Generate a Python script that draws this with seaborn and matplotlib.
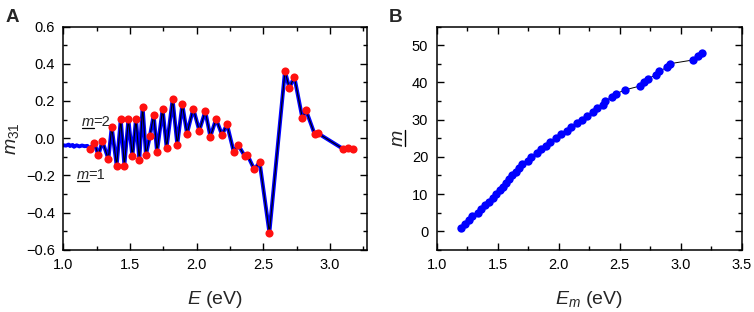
import numpy as np
import pandas as pd
import matplotlib
matplotlib.use('Agg')
import matplotlib.pyplot as plt
from matplotlib.ticker import MultipleLocator
from matplotlib.lines import Line2D
import seaborn as sns

# extrema energies (eV) and m31 values
E_peaks = [1.200, 1.233, 1.263, 1.293, 1.338, 1.363, 1.400, 1.431, 1.458, 1.488,
           1.518, 1.545, 1.570, 1.595, 1.620, 1.650, 1.678, 1.703, 1.745, 1.775,
           1.820, 1.855, 1.893, 1.928, 1.975, 2.020, 2.065, 2.103, 2.146, 2.191,
           2.228, 2.278, 2.313, 2.363, 2.380, 2.433, 2.473, 2.546, 2.663, 2.696,
           2.733, 2.793, 2.821, 2.886, 2.909, 3.096, 3.138, 3.176]
m31_peaks = [-0.057, -0.027, -0.091, -0.016, -0.112, 0.061, -0.147, 0.102, -0.147, 0.102,
             -0.098, 0.103, -0.118, 0.169, -0.091, 0.014, 0.125, -0.073, 0.157, -0.050,
             0.209, -0.034, 0.182, 0.025, 0.159, 0.041, 0.145, 0.009, 0.103, 0.018,
             0.075, -0.072, -0.038, -0.098, -0.088, -0.168, -0.129, -0.507, 0.360, 0.269,
             0.330, 0.110, 0.150, 0.021, 0.027, -0.056, -0.052, -0.056]
# low-energy tail of the spectrum before the first extremum
E_tail = [1.00, 1.02, 1.04, 1.05, 1.07, 1.08, 1.10, 1.12, 1.14, 1.16, 1.18]
m31_tail = [-0.038, -0.040, -0.034, -0.042, -0.036, -0.046, -0.038, -0.044, -0.039, -0.043, -0.041]
# order index of each extremum (panel B)
m_order = list(range(1, len(E_peaks) + 1))

peaks = pd.DataFrame({'E': E_peaks, 'm31': m31_peaks, 'm': m_order})
spec = pd.DataFrame({'E': E_tail + E_peaks, 'm31': m31_tail + m31_peaks})

sns.set_theme(style='ticks')
plt.rcParams['font.family'] = ['Liberation Sans', 'DejaVu Sans']
plt.rcParams['mathtext.fontset'] = 'custom'
plt.rcParams['mathtext.rm'] = 'Liberation Sans'
plt.rcParams['mathtext.it'] = 'Liberation Sans:italic'

fig = plt.figure(figsize=(7.54, 3.12), dpi=100)
ax1 = fig.add_axes([0.084, 0.199, 0.403, 0.716])
ax2 = fig.add_axes([0.579, 0.199, 0.405, 0.716])

# panel A
sns.lineplot(x='E', y='m31', data=spec, ax=ax1, color='#0000ff', lw=2.8, sort=False, estimator=None)
sns.lineplot(x='E', y='m31', data=peaks, ax=ax1, color='black', lw=0.8, sort=False, estimator=None)
sns.scatterplot(x='E', y='m31', data=peaks, ax=ax1, color='#ff1010', s=34, linewidth=0, zorder=5)
ax1.set_xlim(1.0, 3.28)
ax1.set_ylim(-0.6, 0.6)
ax1.xaxis.set_major_locator(MultipleLocator(0.5))
ax1.xaxis.set_minor_locator(MultipleLocator(0.25))
ax1.yaxis.set_major_locator(MultipleLocator(0.2))
ax1.yaxis.set_minor_locator(MultipleLocator(0.1))
ax1.set_xlabel(r'$E$ (eV)', fontsize=14, labelpad=12)
ax1.set_ylabel(r'$m_{31}$', fontsize=14, labelpad=4)
m_texts = []
for lab, (xa, ya) in [('=2', (1.14, 0.085)), ('=1', (1.10, -0.198))]:
    m_texts.append(ax1.annotate('m', (xa, ya), fontsize=10.5, style='italic', va='center'))
    ax1.annotate(lab, (xa, ya), xytext=(8.4, 0), textcoords='offset points', fontsize=10.5, va='center')

# panel B
sns.lineplot(x='E', y='m', data=peaks, ax=ax2, color='black', lw=0.7, sort=False, estimator=None)
sns.scatterplot(x='E', y='m', data=peaks, ax=ax2, color='#0000ff', s=36, linewidth=0, zorder=5)
ax2.set_xlim(1.0, 3.5)
ax2.set_ylim(-5, 55)
ax2.xaxis.set_major_locator(MultipleLocator(0.5))
ax2.xaxis.set_minor_locator(MultipleLocator(0.25))
ax2.yaxis.set_major_locator(MultipleLocator(10))
ax2.yaxis.set_minor_locator(MultipleLocator(5))
ax2.set_xlabel(r'$E_m$ (eV)', fontsize=14, labelpad=12)
ylab_b = ax2.set_ylabel('m', fontsize=14, style='italic', labelpad=4)

for ax in (ax1, ax2):
    ax.tick_params(which='both', direction='in', top=True, right=True, labelsize=10.5, width=1.0, colors='black')
    ax.tick_params(which='major', length=5, pad=6)
    ax.tick_params(which='minor', length=3)
    for sp in ax.spines.values():
        sp.set_linewidth(1.1)
        sp.set_color('black')

fig.text(0.007, 0.97, 'A', fontsize=13.5, fontweight='bold', va='top')
fig.text(0.515, 0.97, 'B', fontsize=13.5, fontweight='bold', va='top')

# underline the "m" glyphs (mathtext has no \underline)
fig.canvas.draw()
r = fig.canvas.get_renderer()
W, H = fig.bbox.width, fig.bbox.height
for t in m_texts:
    bb = t.get_window_extent(r)
    y = bb.y0 + 1.5
    fig.add_artist(Line2D([bb.x0 / W, bb.x1 / W], [y / H, y / H], color='black', lw=0.9))
bb = ylab_b.get_window_extent(r)
x = bb.x1 - 1.5
fig.add_artist(Line2D([x / W, x / W], [bb.y0 / H, bb.y1 / H], color='black', lw=1.0))

fig.savefig('out.png', dpi=100)
